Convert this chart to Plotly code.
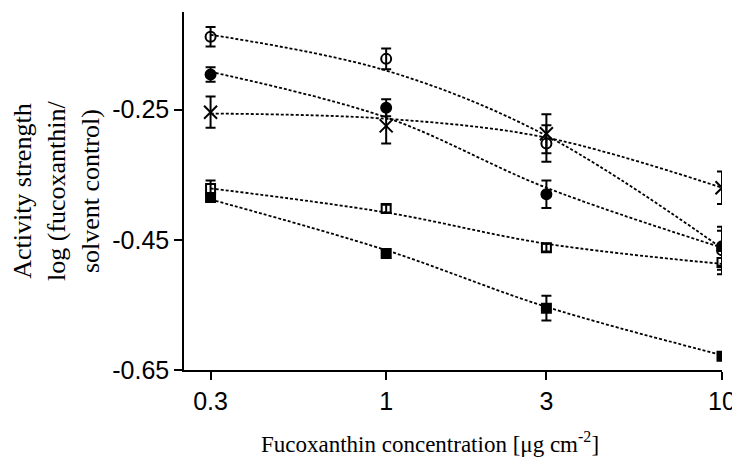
import plotly.graph_objects as go

# Fucoxanthin concentrations (ug cm-2)
conc = [0.3, 1, 3, 10]

# measured means (log activity strength) per series
open_circle = [-0.138, -0.172, -0.302, -0.466]
filled_circle = [-0.196, -0.247, -0.380, -0.460]
cross = [-0.254, -0.275, -0.287, -0.370]
open_square = [-0.371, -0.402, -0.462, -0.485]
filled_square = [-0.385, -0.471, -0.555, -0.629]

# error bars (+/-)
open_circle_err = [0.015, 0.016, 0.028, 0.030]
filled_circle_err = [0.011, 0.013, 0.021, 0.030]
cross_err = [0.024, 0.027, 0.030, 0.025]
open_square_err = [0.012, 0.006, 0.006, 0.018]
filled_square_err = [0.004, 0.006, 0.019, 0.005]

# fitted curves read at the same concentrations
open_circle_fit = [-0.135, -0.190, -0.290, -0.463]
filled_circle_fit = [-0.192, -0.262, -0.370, -0.462]
cross_fit = [-0.256, -0.264, -0.293, -0.370]
open_square_fit = [-0.371, -0.408, -0.456, -0.487]
filled_square_fit = [-0.388, -0.466, -0.553, -0.627]

series = [
    (open_circle, open_circle_err, open_circle_fit, 'circle-open', 10),
    (filled_circle, filled_circle_err, filled_circle_fit, 'circle', 10),
    (cross, cross_err, cross_fit, 'x-thin-open', 13),
    (open_square, open_square_err, open_square_fit, 'square-open', 9),
    (filled_square, filled_square_err, filled_square_fit, 'square', 9),
]

fig = go.Figure()

# dotted fit curves
for vals, err, fit, sym, size in series:
    fig.add_trace(go.Scatter(
        x=conc, y=fit, mode='lines',
        line=dict(color='black', width=1.8, dash='3px,2px', shape='spline'),
        hoverinfo='skip'
    ))

# points with error bars
for vals, err, fit, sym, size in series:
    fig.add_trace(go.Scatter(
        x=conc, y=vals, mode='markers',
        marker=dict(symbol=sym, size=size, color='black',
                    line=dict(color='black', width=2)),
        error_y=dict(type='data', array=err, visible=True,
                     color='black', thickness=2, width=5)
    ))

serif = dict(family='Liberation Serif', color='black')

# axis titles as annotations so they can sit where the original has them
fig.add_annotation(
    text='Activity strength<br>log (fucoxanthin/<br>solvent control)',
    xref='paper', yref='paper', x=0, y=0.5, xshift=-128,
    xanchor='center', yanchor='middle', textangle=-90, showarrow=False,
    font=dict(size=26, **serif)
)
fig.add_annotation(
    text='Fucoxanthin concentration [\u03bcg cm<sup>-2</sup>]',
    xref='paper', yref='paper', x=0.5, y=0, xshift=-23, yshift=-56,
    xanchor='center', yanchor='top', showarrow=False,
    font=dict(size=23, **serif)
)

# page body adds an 8px offset, so the figure is 8px smaller than the window
fig.update_layout(
    width=732, height=451,
    margin=dict(l=176, r=18, t=4, b=89),
    plot_bgcolor='white', paper_bgcolor='white',
    showlegend=False,
    font=dict(family='Liberation Sans', size=25, color='black'),
    xaxis=dict(
        type='log', range=[-0.602, 1.0],
        tickvals=conc, ticktext=['0.3', '1', '3', '10'],
        ticks='outside', ticklen=8, tickwidth=1.5, tickcolor='black',
        showline=True, linecolor='black', linewidth=1.5,
        showgrid=False, zeroline=False, automargin=False
    ),
    yaxis=dict(
        range=[-0.65, -0.10],
        tickvals=[-0.65, -0.45, -0.25], ticktext=['-0.65', '-0.45', '-0.25'],
        ticks='outside', ticklen=8, tickwidth=1.5, tickcolor='black',
        showline=True, linecolor='black', linewidth=1.5,
        showgrid=False, zeroline=False, automargin=False
    )
)

fig.write_html("out.html")
